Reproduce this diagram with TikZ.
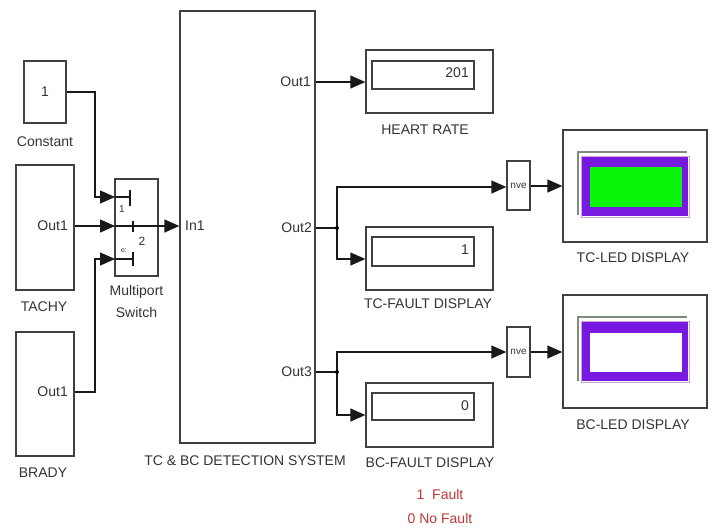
\documentclass[tikz,border=0pt]{standalone}
\usepackage{fontspec}
\setmainfont{Liberation Sans}
\usetikzlibrary{arrows.meta}
\definecolor{ledpurple}{RGB}{120,25,225}
\definecolor{ledgreen}{RGB}{10,245,10}
\definecolor{faultred}{RGB}{190,55,55}
\definecolor{shadowgray}{RGB}{125,140,125}
\begin{document}
\begin{tikzpicture}[x=1pt,y=-1pt,
  blk/.style={draw=black!75, line width=1.3pt, inner sep=0pt, rectangle},
  lbl/.style={font=\fontsize{14}{16}\selectfont, text=black!80, inner sep=0pt},
  small/.style={font=\fontsize{10}{11}\selectfont, text=black!80, inner sep=0pt},
  wire/.style={line width=1.3pt, draw=black!90},
  arr/.style={wire, -{Triangle[length=15pt,width=13pt]}},
  dot/.style={circle, fill=black, inner sep=0pt, minimum size=4pt},
]
\useasboundingbox (0,0) rectangle (714,530);

% ---- sources ----
\node[blk, lbl, minimum width=42pt, minimum height=62pt] (const) at (45,92) {1};
\node[lbl] (constlbl) at (45,142) {Constant};
\node[blk, minimum width=58pt, minimum height=125pt] (tachy) at (45,227.5) {};
\node[lbl, anchor=east] (tachyout) at (68,226) {Out1};
\node[lbl] (tachylbl) at (44,307) {TACHY};
\node[blk, minimum width=58pt, minimum height=124pt] (brady) at (45,394) {};
\node[lbl, anchor=east] (bradyout) at (68,392) {Out1};
\node[lbl] (bradylbl) at (43,473) {BRADY};

% ---- multiport switch ----
\node[blk, minimum width=43pt, minimum height=97pt] (switch) at (136.5,227.5) {};
\node[lbl] (swlbl1) at (136.5,292) {Multiport};
\node[lbl] (swlbl2) at (136.5,312) {Switch};
\coordinate (sp1) at (115,197);
\coordinate (sp2) at (115,226);
\coordinate (sp3) at (115,259);
\draw[wire] (sp1) -- ++(15,0) coordinate (t1);
\draw[wire] ([yshift=-9pt]t1) -- ([yshift=7pt]t1);
\draw[wire] (sp3) -- ++(18,0) coordinate (t3);
\draw[wire] ([yshift=-7pt]t3) -- ([yshift=7pt]t3);
\draw[wire] (133,221) -- (133,232);
\node[small] (s1) at (122,209) {1};
\node[small, font=\fontsize{12}{13}\selectfont] (s2) at (142,241) {2};
\node[small, font=\fontsize{7}{8}\selectfont] (s3) at (124,251) {e:};

% ---- detection system ----
\node[blk, minimum width=135pt, minimum height=432pt] (sys) at (247.5,227) {};
\node[lbl, anchor=west] (in1) at (185,226) {In1};
\node[lbl, anchor=east] (out1) at (311,82) {Out1};
\node[lbl, anchor=east] (out2) at (312,228) {Out2};
\node[lbl, anchor=east] (out3) at (312,372) {Out3};
\node[lbl] (syslbl) at (245,461) {TC \& BC DETECTION SYSTEM};

% ---- displays ----
\node[blk, minimum width=127pt, minimum height=63pt] (hr) at (429.5,81.5) {};
\node[blk, minimum width=102pt, minimum height=28pt] (hrin) at (423,75) {};
\node[lbl, anchor=east] (hrval) at (469,73) {201};
\node[lbl] (hrlbl) at (425,130) {HEART RATE};

\node[blk, minimum width=127pt, minimum height=63pt] (tcf) at (429.5,258.5) {};
\node[blk, minimum width=102pt, minimum height=29pt] (tcfin) at (423,251.5) {};
\node[lbl, anchor=east] (tcfval) at (469,250) {1};
\node[lbl] (tcflbl) at (428,304) {TC-FAULT DISPLAY};

\node[blk, minimum width=127pt, minimum height=64pt] (bcf) at (429.5,415) {};
\node[blk, minimum width=102pt, minimum height=27pt] (bcfin) at (423,406.5) {};
\node[lbl, anchor=east] (bcfval) at (469,406) {0};
\node[lbl] (bcflbl) at (430,463) {BC-FAULT DISPLAY};
\node[lbl, text=faultred] (f1) at (440,494) {1\ \ Fault};
\node[lbl, text=faultred] (f0) at (440,518) {0 No Fault};

% ---- nve blocks ----
\node[blk, small, minimum width=23pt, minimum height=49pt] (nve1) at (518.5,185.5) {nve};
\node[blk, small, minimum width=23pt, minimum height=50pt] (nve2) at (518.5,352) {nve};

% ---- LED displays ----
\node[blk, minimum width=144pt, minimum height=112pt] (tcled) at (635,186) {};
\draw[shadowgray, line width=1.5pt] (578,215) -- (578,152) -- (687,152);
\fill[ledpurple] (582,157) rectangle (688,216);
\draw[violet!35, line width=1pt] (581,156) rectangle (689,217);
\fill[ledgreen] (590,167) rectangle (682,207);
\node[lbl] (tcledlbl) at (633,258) {TC-LED DISPLAY};

\node[blk, minimum width=144pt, minimum height=113pt] (bcled) at (635,351.5) {};
\draw[shadowgray, line width=1.5pt] (578,381) -- (578,317) -- (687,317);
\fill[ledpurple] (582,322) rectangle (688,381);
\draw[violet!35, line width=1pt] (581,321) rectangle (689,382);
\fill[white] (590,333) rectangle (682,372);
\node[lbl] (bcledlbl) at (633,425) {BC-LED DISPLAY};

% ---- connectors ----
\draw[arr] (const.east |- 0,92) -- (95,92) |- (sp1);
\draw[arr] (tachy.east |- sp2) -- (sp2);
\draw[arr] (brady.east |- 0,392) -- (95,392) |- (sp3);
\draw[wire] (sp2) -- (switch.east |- sp2);
\draw[arr] (switch.east |- sp2) -- (sys.west |- sp2);

\draw[arr] (sys.east |- 0,82) -- (hr.west |- 0,82);

\coordinate (j2) at (337,228);
\draw[wire] (sys.east |- j2) -- (j2);
\draw[arr] (j2) |- (nve1.west |- 0,187);
\draw[arr] (j2) |- (tcf.west |- 0,259);
\node[dot] (j2dot) at (j2) {};
\draw[arr] (nve1.east |- 0,186) -- (tcled.west |- 0,186);

\coordinate (j3) at (337,372);
\draw[wire] (sys.east |- j3) -- (j3);
\draw[arr] (j3) |- (nve2.west |- 0,352);
\draw[arr] (j3) |- (bcf.west |- 0,415);
\node[dot] (j3dot) at (j3) {};
\draw[arr] (nve2.east |- 0,352) -- (bcled.west |- 0,352);
\end{tikzpicture}
\end{document}
